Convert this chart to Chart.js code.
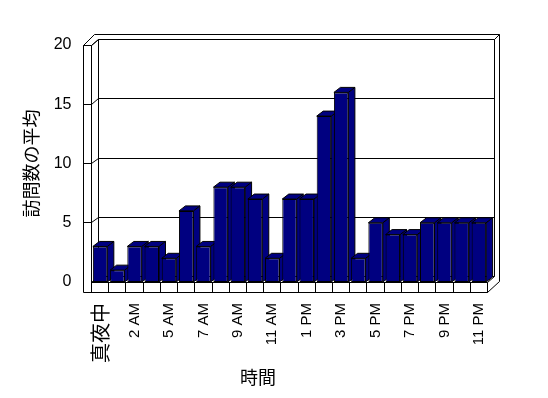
<!DOCTYPE html>
<html>
<head>
<meta charset="utf-8">
<script src="https://cdn.jsdelivr.net/npm/chart.js@4/dist/chart.umd.min.js"></script>
<style>
  html, body { margin: 0; padding: 0; background: #fff; }
  #chart { display: block; }
</style>
</head>
<body>
<canvas id="chart" width="548" height="398"></canvas>
<script>
// hours shown on the x axis (4 AM has no entry)
const hourLabels = [
  "真夜中", "1 AM", "2 AM", "3 AM", "5 AM", "6 AM", "7 AM", "8 AM", "9 AM", "10 AM", "11 AM", "正午",
  "1 PM", "2 PM", "3 PM", "4 PM", "5 PM", "6 PM", "7 PM", "8 PM", "9 PM", "10 PM", "11 PM"
];
const visitAverages = [3, 1, 3, 3, 2, 6, 3, 8, 8, 7, 2, 7, 7, 14, 16, 2, 5, 4, 4, 5, 5, 5, 5];
const yTicks = [0, 5, 10, 15, 20];
const yTitle = "訪問数の平均";
const xTitle = "時間";

const LATIN = "'Liberation Sans', Arial, sans-serif";
const CJK = "'Noto Sans CJK JP', sans-serif";
const NAVY = "#000080";

const px = (v) => Math.floor(v) + 0.5;

function line(ctx, pts) {
  ctx.beginPath();
  pts.forEach(([a, b], i) => (i ? ctx.lineTo(px(a), px(b)) : ctx.moveTo(px(a), px(b))));
  ctx.stroke();
}

function poly(ctx, pts) {
  ctx.beginPath();
  pts.forEach(([a, b], i) => (i ? ctx.lineTo(a, b) : ctx.moveTo(a, b)));
  ctx.closePath();
  ctx.fill();
  ctx.stroke();
}

// Excel style walls, floor and bar depth
const walls3d = {
  id: "walls3d",
  beforeDatasetsDraw(chart) {
    const { ctx, chartArea: a, scales } = chart;
    const yScale = scales.y;
    const L = a.left, R = a.right, F = a.bottom, FB = F + 10;
    const T = yScale.getPixelForValue(20);
    const dx = 7, dy = -5.5, tx = 4.5, ty = -5, wall = 8;
    const xo = L - wall;
    const n = hourLabels.length;

    ctx.save();
    ctx.strokeStyle = "#000";
    ctx.lineWidth = 1;

    // grid lines on back wall + ticks on left wall
    yTicks.forEach((v) => {
      const p = yScale.getPixelForValue(v);
      if (v > 0) line(ctx, [[xo, p], [L, p]]);
      line(ctx, [[L, p], [L + dx, p + dy], [R + dx, p + dy]]);
    });

    // left wall
    line(ctx, [[xo, FB], [xo, T], [L, T], [L, FB]]);
    line(ctx, [[L, T], [L + dx, T + dy], [L + dx, F + dy]]);
    line(ctx, [[xo, T], [L + dx - 4, T + dy + ty], [R + dx + tx, T + dy + ty]]);
    // back wall
    line(ctx, [[L + dx, T + dy], [R + dx, T + dy], [R + dx, F + dy]]);
    line(ctx, [[R + dx, T + dy], [R + dx + tx, T + dy + ty], [R + dx + tx, FB + dy + ty]]);
    // floor
    line(ctx, [[L, F], [R, F], [R, FB], [xo, FB]]);
    line(ctx, [[R, F], [R + dx, F + dy]]);
    line(ctx, [[R, FB], [R + dx + tx, FB + dy + ty]]);
    for (let i = 0; i <= n; i++) {
      const xi = L + (i * (R - L)) / n;
      line(ctx, [[xi, F], [xi, FB]]);
    }

    // bar tops and sides, the library draws the front faces after this
    const bdx = 6.5, bdy = -5;
    ctx.fillStyle = NAVY;
    chart.getDatasetMeta(0).data.forEach((bar) => {
      const { x, y, base, width } = bar.getProps(["x", "y", "base", "width"], true);
      const l = x - width / 2, r = x + width / 2;
      poly(ctx, [[r, y], [r + bdx, y + bdy], [r + bdx, base + bdy], [r, base]]);
      poly(ctx, [[l, y], [l + bdx, y + bdy], [r + bdx, y + bdy], [r, y]]);
    });
    ctx.restore();
  },
  afterDraw(chart) {
    const { ctx } = chart;
    ctx.save();
    ctx.fillStyle = "#000";
    ctx.font = "18px " + CJK;
    ctx.textAlign = "center";
    ctx.textBaseline = "middle";
    ctx.fillText(xTitle, 258, 377);
    ctx.restore();
  },
};

new Chart(document.getElementById("chart").getContext("2d"), {
  type: "bar",
  data: {
    labels: hourLabels,
    datasets: [
      {
        data: visitAverages,
        backgroundColor: NAVY,
        borderColor: "#000",
        borderWidth: 1,
        borderSkipped: false,
        barPercentage: 0.84,
        categoryPercentage: 1,
      },
    ],
  },
  options: {
    responsive: false,
    animation: false,
    layout: { padding: { top: 45, right: 60.5, bottom: 0, left: 0 } },
    plugins: { legend: { display: false }, tooltip: { enabled: false } },
    scales: {
      x: {
        grid: { display: false, drawTicks: false },
        border: { display: false },
        afterFit: (s) => { s.height = 116; },
        ticks: {
          autoSkip: false,
          minRotation: 90,
          maxRotation: 90,
          padding: 21,
          color: "#000",
          font: (c) => (c.index === 0 ? { family: CJK, size: 20 } : { family: LATIN, size: 15 }),
          callback: (val, i) => (i % 2 === 0 ? hourLabels[i] : ""),
        },
      },
      y: {
        min: 0,
        max: 20,
        grid: { display: false, drawTicks: false },
        border: { display: false },
        afterFit: (s) => { s.width = 91.5; },
        ticks: { stepSize: 5, padding: 20, color: "#000", font: { family: LATIN, size: 16 } },
        title: {
          display: true,
          text: yTitle,
          color: "#000",
          font: { family: CJK, size: 18 },
          padding: { top: 20, bottom: 0 },
        },
      },
    },
  },
  plugins: [walls3d],
});
</script>
</body>
</html>
